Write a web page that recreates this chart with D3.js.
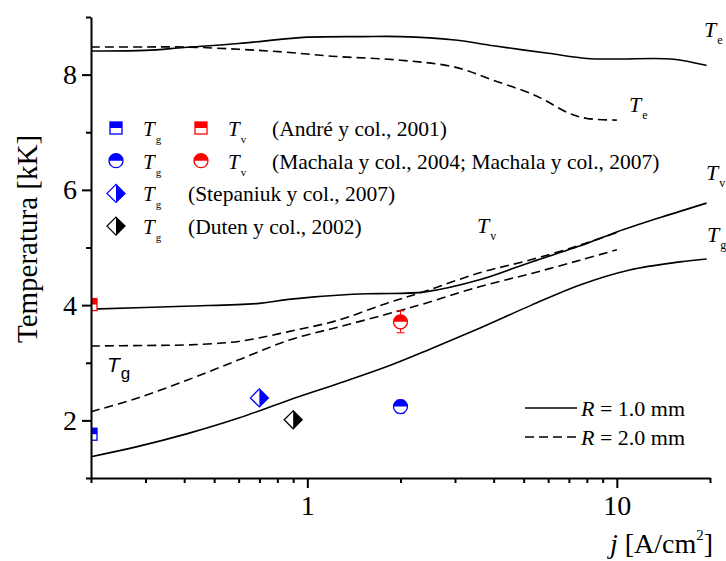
<!DOCTYPE html>
<html>
<head>
<meta charset="utf-8">
<script src="https://cdn.jsdelivr.net/npm/d3@7"></script>
<style>
  html, body { margin: 0; padding: 0; background: #fff; }
  svg { display: block; font-family: "Liberation Serif", "Times New Roman", serif; }
</style>
</head>
<body>
<svg id="chart" width="726" height="561"></svg>
<script>
// ---- Model curves: current density j [A/cm2] vs temperature [kK] ----
// R = 1.0 mm (solid)
const jTeR1 = [0.2, 0.3, 0.4, 0.6, 0.85, 1, 1.5, 2, 3, 4, 6, 8, 10, 15, 19.5];
const TeR1  = [8.41, 8.42, 8.47, 8.54, 8.62, 8.65, 8.66, 8.66, 8.60, 8.50, 8.37, 8.28, 8.27, 8.27, 8.16];
const jTvR1 = [0.2, 0.4, 0.7, 0.87, 1.4, 1.7, 2.4, 3.6, 5.3, 8, 10, 14, 19.5];
const TvR1  = [3.93, 3.98, 4.03, 4.10, 4.19, 4.20, 4.23, 4.44, 4.75, 5.07, 5.27, 5.53, 5.77];
const jTgR1 = [0.2, 0.28, 0.41, 0.6, 0.87, 1.26, 1.8, 2.5, 3.6, 5.3, 7.6, 11, 16, 19.5];
const TgR1  = [1.37, 1.54, 1.77, 2.04, 2.35, 2.64, 2.93, 3.24, 3.60, 4.00, 4.35, 4.61, 4.75, 4.80];
// R = 2.0 mm (dashed)
const jTeR2 = [0.2, 0.3, 0.4, 0.6, 0.85, 1.2, 2, 3, 4, 5.5, 7, 8, 10];
const TeR2  = [8.48, 8.48, 8.48, 8.44, 8.39, 8.32, 8.25, 8.13, 7.90, 7.63, 7.33, 7.24, 7.21];
const jTvR2 = [0.2, 0.3, 0.41, 0.6, 0.87, 1.26, 1.8, 2.4, 3.6, 5.3, 7.6, 10];
const TvR2  = [3.29, 3.30, 3.31, 3.37, 3.54, 3.74, 4.03, 4.24, 4.56, 4.79, 5.04, 5.26];
const jTgR2 = [0.2, 0.28, 0.41, 0.6, 0.87, 1.26, 1.8, 2.4, 3.6, 5.3, 7.6, 10];
const TgR2  = [2.15, 2.38, 2.70, 3.05, 3.39, 3.62, 3.84, 4.03, 4.32, 4.55, 4.78, 4.96];

// ---- Experimental points ----
const expNames = ["André Tg", "André Tv", "Machala Tg", "Machala Tv", "Stepaniuk Tg", "Duten Tg"];
const expJ     = [0.2, 0.2, 2.0, 2.0, 0.70, 0.90];
const expT     = [1.76, 4.01, 2.24, 3.71, 2.39, 2.01];
const expErr   = [0, 0, 0.11, 0.19, 0, 0];
const expShape = ["square", "square", "circle", "circle", "diamond", "diamond"];
const expColor = ["#0000ff", "#ff0000", "#0000ff", "#ff0000", "#0000ff", "#000000"];

// ---- Legend text ----
const legendRefs = ["(André y col., 2001)", "(Machala y col., 2004; Machala y col., 2007)",
                    "(Stepaniuk y col., 2007)", "(Duten y col., 2002)"];
const radiusLabels = ["1.0", "2.0"];

// ---- Axes ticks ----
const yMajor = [2, 4, 6, 8];
const yMinor = [1, 3, 5, 7, 9];
const xMajor = [1, 10];
const xMinor = [0.2, 0.3, 0.4, 0.5, 0.6, 0.7, 0.8, 0.9, 2, 3, 4, 5, 6, 7, 8, 9, 20];

const svg = d3.select("#chart");
const x = d3.scaleLog().domain([0.2, 20]).range([91, 710]);
const y = d3.scaleLinear().domain([1, 9]).range([478, 17]);

svg.append("defs").append("clipPath").attr("id", "plotclip")
  .append("rect").attr("x", 91).attr("y", 0).attr("width", 635).attr("height", 478);

// ---- Curves ----
const line = d3.line().x(d => x(d[0])).y(d => y(d[1])).curve(d3.curveCatmullRom.alpha(0.5));
const curves = [
  [jTeR1, TeR1, false], [jTvR1, TvR1, false], [jTgR1, TgR1, false],
  [jTeR2, TeR2, true], [jTvR2, TvR2, true], [jTgR2, TgR2, true]
];
const gCurves = svg.append("g");
curves.forEach(([js, ts, dashed]) => {
  gCurves.append("path")
    .datum(js.map((j, i) => [j, ts[i]]))
    .attr("d", line)
    .attr("fill", "none")
    .attr("stroke", "#000")
    .attr("stroke-width", 1.6)
    .attr("stroke-dasharray", dashed ? "9,5" : null);
});

// ---- Marker drawing (half-filled symbols) ----
function drawMarker(g, shape, color, cx, cy) {
  const m = g.append("g").attr("transform", `translate(${cx},${cy})`);
  if (shape === "square") {
    const s = 6;
    m.append("rect").attr("x", -s).attr("y", -s).attr("width", 2 * s).attr("height", 2 * s)
      .attr("fill", "#fff").attr("stroke", color).attr("stroke-width", 1.3);
    m.append("rect").attr("x", -s).attr("y", -s).attr("width", 2 * s).attr("height", s)
      .attr("fill", color);
  } else if (shape === "circle") {
    const r = 7;
    m.append("circle").attr("r", r).attr("fill", "#fff").attr("stroke", color).attr("stroke-width", 1.3);
    m.append("path").attr("d", `M${-r},0 A${r},${r} 0 0 1 ${r},0 Z`).attr("fill", color);
  } else {
    const r = 9;
    m.append("path").attr("d", `M0,${-r} L${r},0 L0,${r} L${-r},0 Z`)
      .attr("fill", "#fff").attr("stroke", color).attr("stroke-width", 1.3);
    m.append("path").attr("d", `M0,${-r} L${r},0 L0,${r} Z`).attr("fill", color);
  }
}

// ---- Experimental points ----
const gPts = svg.append("g").attr("clip-path", "url(#plotclip)");
expJ.forEach((j, i) => {
  const cx = x(j), cy = y(expT[i]);
  if (expErr[i] > 0) {
    const y0 = y(expT[i] - expErr[i]), y1 = y(expT[i] + expErr[i]);
    gPts.append("line").attr("x1", cx).attr("x2", cx).attr("y1", y0).attr("y2", y1)
      .attr("stroke", expColor[i]).attr("stroke-width", 1);
    [y0, y1].forEach(yy => gPts.append("line").attr("x1", cx - 4).attr("x2", cx + 4)
      .attr("y1", yy).attr("y2", yy).attr("stroke", expColor[i]).attr("stroke-width", 1));
  }
  drawMarker(gPts, expShape[i], expColor[i], cx, cy);
});

// ---- Axes ----
function styleAxis(g) {
  g.selectAll("path.domain").attr("stroke", "#000").attr("stroke-width", 2);
  g.selectAll(".tick line").attr("stroke", "#000").attr("stroke-width", 2);
  g.selectAll(".tick text").attr("font-family", "Liberation Serif").attr("font-size", 28).attr("fill", "#000");
}
const gy = svg.append("g").attr("transform", "translate(91,0)")
  .call(d3.axisLeft(y).tickValues(yMajor).tickSize(9).tickSizeOuter(0).tickPadding(5).tickFormat(d3.format("d")));
styleAxis(gy);
const gyMinor = svg.append("g").attr("transform", "translate(91,0)")
  .call(d3.axisLeft(y).tickValues(yMinor).tickSize(5).tickSizeOuter(0).tickFormat(""));
styleAxis(gyMinor);
gyMinor.select("path.domain").remove();

const gx = svg.append("g").attr("transform", "translate(0,478)")
  .call(d3.axisBottom(x).tickValues(xMajor).tickSize(10).tickSizeOuter(0).tickPadding(7).tickFormat(d3.format("d")));
styleAxis(gx);
const gxMinor = svg.append("g").attr("transform", "translate(0,478)")
  .call(d3.axisBottom(x).tickValues(xMinor).tickSize(5).tickSizeOuter(0).tickFormat(""));
styleAxis(gxMinor);
gxMinor.select("path.domain").remove();

// ---- Axis titles ----
svg.append("text").attr("transform", "translate(37,239) rotate(-90)")
  .attr("text-anchor", "middle").attr("font-size", 29).text("Temperatura [kK]");
const xt = svg.append("text").attr("x", 610).attr("y", 553).attr("font-size", 28);
xt.append("tspan").attr("font-style", "italic").text("j");
xt.append("tspan").text(" [A/cm");
xt.append("tspan").attr("font-size", 15).attr("dy", -13).text("2");
xt.append("tspan").attr("dy", 13).text("]");

// ---- Subscripted labels ----
function subLabel(px, py, main, sub, size, subSize, family) {
  const t = svg.append("text").attr("x", px).attr("y", py).attr("font-size", size);
  if (family) t.attr("font-family", family);
  t.append("tspan").attr("font-style", "italic").text(main);
  t.append("tspan").attr("font-size", subSize).attr("dx", 1).attr("dy", size * 0.32).text(sub);
}
subLabel(704, 37, "T", "e", 22, 12);
subLabel(629, 112, "T", "e", 22, 12);
subLabel(706, 180, "T", "v", 22, 12);
subLabel(707, 242, "T", "g", 22, 12);
subLabel(477, 233, "T", "v", 22, 12);
subLabel(107, 372, "T", "g", 21, 17, "Liberation Sans");

// ---- Data legend ----
const legendRows = [
  [["square", "#0000ff", "g"], ["square", "#ff0000", "v"]],
  [["circle", "#0000ff", "g"], ["circle", "#ff0000", "v"]],
  [["diamond", "#0000ff", "g"]],
  [["diamond", "#000000", "g"]]
];
legendRows.forEach((row, r) => {
  const cy = 128 + r * 32.7;
  const base = cy + 8;
  row.forEach((it, k) => {
    const mx = k === 0 ? 116 : 201;
    drawMarker(svg, it[0], it[1], mx, cy);
    const t = svg.append("text").attr("x", mx + 27).attr("y", base).attr("font-size", 21);
    t.append("tspan").attr("font-style", "italic").text("T");
    t.append("tspan").attr("font-size", 11).attr("dx", 1).attr("dy", 7).text(it[2]);
  });
  svg.append("text").attr("x", row.length === 2 ? 272 : 188).attr("y", base)
    .attr("font-size", 21.5).text(legendRefs[r]);
});

// ---- Radius legend ----
radiusLabels.forEach((lab, i) => {
  const ly = 408 + i * 29;
  svg.append("line").attr("x1", 525).attr("x2", 577).attr("y1", ly).attr("y2", ly)
    .attr("stroke", "#000").attr("stroke-width", 1.6)
    .attr("stroke-dasharray", i === 1 ? "9,5" : null);
  const t = svg.append("text").attr("x", 581).attr("y", ly + 8).attr("font-size", 22);
  t.append("tspan").attr("font-style", "italic").text("R");
  t.append("tspan").text(` = ${lab} mm`);
});
</script>
</body>
</html>
